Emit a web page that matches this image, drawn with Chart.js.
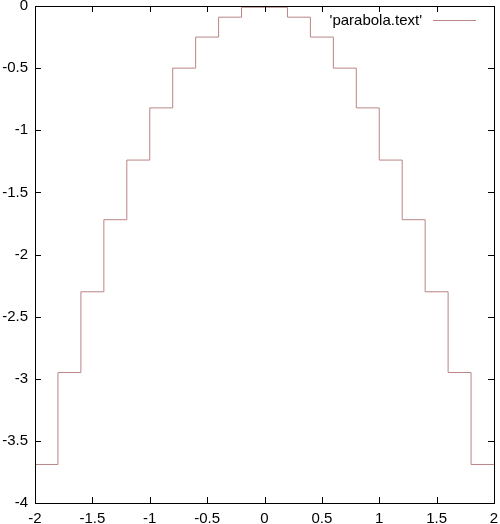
<!DOCTYPE html>
<html>
<head>
<meta charset="utf-8">
<script src="https://cdn.jsdelivr.net/npm/chart.js@4/dist/chart.umd.min.js"></script>
<style>
  html, body { margin: 0; padding: 0; background: #fff; }
  #wrap { width: 500px; height: 524px; }
</style>
</head>
<body>
<div id="wrap"><canvas id="parabolaChart" width="500" height="524"></canvas></div>
<script>
// step positions along x and the level held until the next step
const xValues = [-2, -1.8, -1.6, -1.4, -1.2, -1, -0.8, -0.6, -0.4, -0.2, 0, 0.2, 0.4, 0.6, 0.8, 1, 1.2, 1.4, 1.6, 1.8, 2];
const yValues = [-3.69, -2.95, -2.3, -1.72, -1.24, -0.82, -0.5, -0.25, -0.09, -0.01, -0.01, -0.09, -0.25, -0.5, -0.82, -1.24, -1.72, -2.3, -2.95, -3.69, -3.69];
const seriesName = "'parabola.text'";
const xTicks = [-2, -1.5, -1, -0.5, 0, 0.5, 1, 1.5, 2];
const yTicks = [-4, -3.5, -3, -2.5, -2, -1.5, -1, -0.5, 0];

const lineColor = '#b98585';
const fontFamily = "'Liberation Sans', Arial, sans-serif";
const fontSize = 15;

const points = xValues.map((x, i) => ({ x: x, y: yValues[i] }));

// gnuplot style frame, inward ticks on all four sides, and the key inside the plot
const framePlugin = {
    id: 'frame',
    afterDraw(chart) {
        const ctx = chart.ctx;
        const area = chart.chartArea;
        const xs = chart.scales.x;
        const ys = chart.scales.y;
        const tl = 6;
        ctx.save();
        ctx.strokeStyle = '#000';
        ctx.lineWidth = 1;
        ctx.beginPath();
        xTicks.forEach(v => {
            const px = Math.round(xs.getPixelForValue(v)) + 0.5;
            ctx.moveTo(px, area.bottom);
            ctx.lineTo(px, area.bottom - tl);
            ctx.moveTo(px, area.top);
            ctx.lineTo(px, area.top + tl);
        });
        yTicks.forEach(v => {
            const py = Math.round(ys.getPixelForValue(v)) + 0.5;
            ctx.moveTo(area.left, py);
            ctx.lineTo(area.left + tl, py);
            ctx.moveTo(area.right, py);
            ctx.lineTo(area.right - tl, py);
        });
        ctx.stroke();
        ctx.strokeRect(Math.round(area.left) + 0.5, Math.round(area.top) + 0.5,
            Math.round(area.right - area.left), Math.round(area.bottom - area.top));

        // key
        const ky = area.top + 14.5;
        ctx.fillStyle = '#000';
        ctx.font = fontSize + 'px ' + fontFamily;
        ctx.textAlign = 'right';
        ctx.textBaseline = 'middle';
        ctx.fillText(chart.data.datasets[0].label, area.right - 72, ky);
        ctx.strokeStyle = lineColor;
        ctx.beginPath();
        ctx.moveTo(area.right - 61, ky);
        ctx.lineTo(area.right - 18, ky);
        ctx.stroke();
        ctx.restore();
    }
};

const ctx = document.getElementById('parabolaChart').getContext('2d');
const chart = new Chart(ctx, {
    type: 'line',
    data: {
        datasets: [{
            label: seriesName,
            data: points,
            stepped: 'before',
            borderColor: lineColor,
            borderWidth: 1,
            pointRadius: 0,
            fill: false
        }]
    },
    options: {
        responsive: false,
        animation: false,
        layout: { padding: { top: 6, right: 6, left: 0, bottom: 0 } },
        plugins: {
            legend: { display: false },
            tooltip: { enabled: false }
        },
        scales: {
            x: {
                type: 'linear',
                min: -2,
                max: 2,
                afterBuildTicks(scale) { scale.ticks = xTicks.map(v => ({ value: v })); },
                afterFit(scale) {
                    scale.height = 21;
                    scale.paddingLeft = 0;
                    scale.paddingRight = 0;
                },
                grid: { display: false, drawTicks: false },
                border: { display: false },
                ticks: {
                    padding: 7,
                    color: '#000',
                    font: { family: fontFamily, size: fontSize },
                    maxRotation: 0,
                    autoSkip: false,
                    callback: v => String(Math.round(v * 10) / 10)
                }
            },
            y: {
                type: 'linear',
                min: -4,
                max: 0,
                afterBuildTicks(scale) { scale.ticks = yTicks.map(v => ({ value: v })); },
                afterFit(scale) {
                    scale.width = 35;
                    scale.paddingTop = 0;
                    scale.paddingBottom = 0;
                },
                grid: { display: false, drawTicks: false },
                border: { display: false },
                ticks: {
                    padding: 7,
                    color: '#000',
                    font: { family: fontFamily, size: fontSize },
                    autoSkip: false,
                    callback: v => String(Math.round(v * 10) / 10)
                }
            }
        }
    },
    plugins: [framePlugin]
});
</script>
</body>
</html>
